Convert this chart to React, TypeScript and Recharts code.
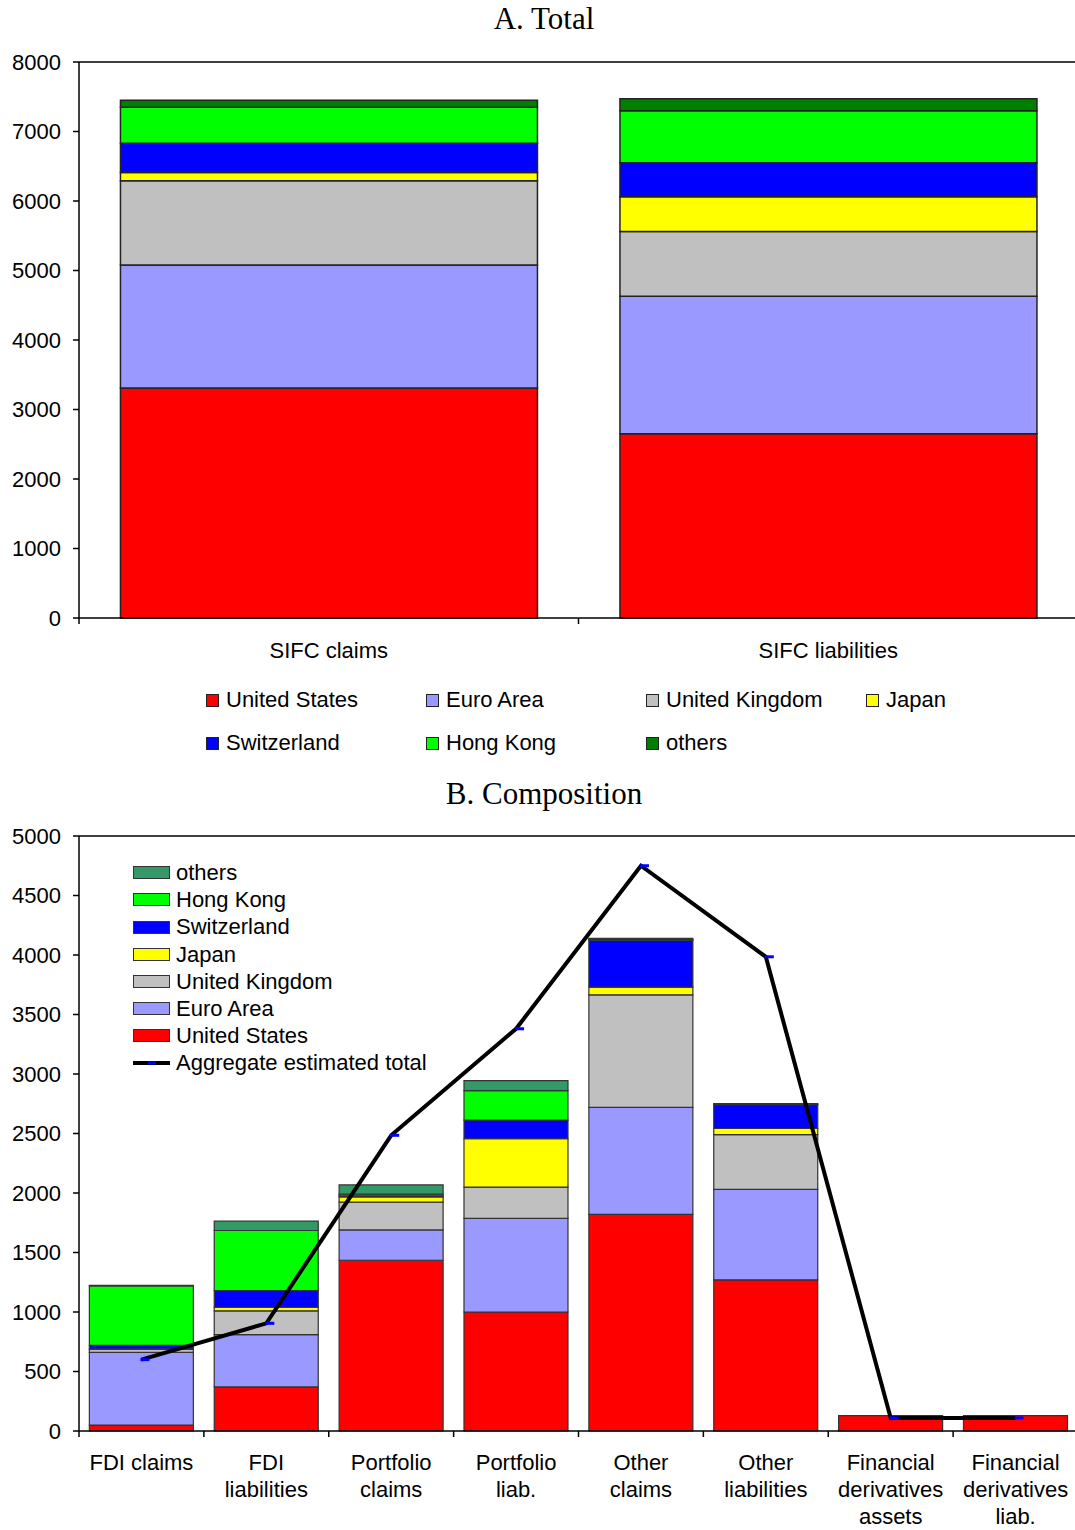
import React from "react";
import { BarChart, ComposedChart, Bar, Line, XAxis, YAxis, ReferenceLine, Legend } from "recharts";

// series (bottom to top in each stack)
const countries = ["United States", "Euro Area", "United Kingdom", "Japan", "Switzerland", "Hong Kong", "others"];
const seriesKeys = ["us", "euro", "uk", "japan", "swiss", "hk", "others"];
const colorsA = ["#ff0000", "#9999ff", "#c0c0c0", "#ffff00", "#0000ff", "#00ff00", "#008000"];
const colorsB = ["#ff0000", "#9999ff", "#c0c0c0", "#ffff00", "#0000ff", "#00ff00", "#339966"];

// A. Total
const totalCategories = ["SIFC claims", "SIFC liabilities"];
const totalUS = [3310, 2650];
const totalEuro = [1770, 1980];
const totalUK = [1210, 930];
const totalJapan = [120, 500];
const totalSwiss = [420, 490];
const totalHK = [520, 750];
const totalOthers = [100, 170];
const totalTicks = [0, 1000, 2000, 3000, 4000, 5000, 6000, 7000, 8000];

// B. Composition
const compCategories = [
  "FDI claims",
  "FDI liabilities",
  "Portfolio claims",
  "Portfolio liab.",
  "Other claims",
  "Other liabilities",
  "Financial derivatives assets",
  "Financial derivatives liab.",
];
const compLabels = [
  ["FDI claims"],
  ["FDI", "liabilities"],
  ["Portfolio", "claims"],
  ["Portfolio", "liab."],
  ["Other", "claims"],
  ["Other", "liabilities"],
  ["Financial", "derivatives", "assets"],
  ["Financial", "derivatives", "liab."],
];
const compUS = [50, 370, 1435, 1000, 1820, 1270, 130, 130];
const compEuro = [610, 440, 255, 787, 900, 760, 0, 0];
const compUK = [25, 200, 233, 263, 945, 460, 0, 0];
const compJapan = [5, 30, 44, 406, 65, 52, 0, 0];
const compSwiss = [30, 140, 9, 157, 395, 200, 0, 0];
const compHK = [500, 505, 14, 247, 5, 5, 0, 0];
const compOthers = [5, 78, 78, 84, 10, 5, 0, 0];
const aggregateTotal = [600, 905, 2485, 3380, 4750, 3985, 110, 110];
const compTicks = [0, 500, 1000, 1500, 2000, 2500, 3000, 3500, 4000, 4500, 5000];

const totalSeries = [totalUS, totalEuro, totalUK, totalJapan, totalSwiss, totalHK, totalOthers];
const compSeries = [compUS, compEuro, compUK, compJapan, compSwiss, compHK, compOthers];

const totalData = totalCategories.map((name, i) => {
  const row: Record<string, any> = { name };
  seriesKeys.forEach((k, s) => (row[k] = totalSeries[s][i]));
  return row;
});

const compData = compCategories.map((name, i) => {
  const row: Record<string, any> = { name, aggregate: aggregateTotal[i] };
  seriesKeys.forEach((k, s) => (row[k] = compSeries[s][i]));
  return row;
});

const SANS = "'Liberation Sans', Arial, sans-serif";
const SERIF = "'Liberation Serif', 'Times New Roman', serif";
const CHART_W = 1080;
const PLOT_LEFT = 79;
const PLOT_RIGHT_MARGIN = 2;

function CategoryTick(props: any) {
  const { x, y, index, catW, labels, firstDy } = props;
  const lines: string[] = labels[index];
  const half = catW / 2;
  return (
    <g>
      <line x1={x - half} x2={x - half} y1={y} y2={y + 6} stroke="#000" strokeWidth={1.5} />
      <text x={x} y={y + firstDy} textAnchor="middle" fontSize={22} fontFamily={SANS} fill="#000">
        {lines.map((l, i) => (
          <tspan key={i} x={x} dy={i === 0 ? 0 : 27}>
            {l}
          </tspan>
        ))}
      </text>
    </g>
  );
}

function BlueDash(props: any) {
  const { cx, cy } = props;
  if (cx == null || cy == null) return null;
  return <rect x={cx - 1} y={cy - 1.5} width={9} height={3} fill="#0000ff" />;
}

const legendA = () => (
  <div style={{ position: "relative", width: 880, height: 80, fontFamily: SANS }}>
    {countries.map((c, i) => (
      <div
        key={c}
        style={{
          position: "absolute",
          left: (i % 4) * 220,
          top: Math.floor(i / 4) * 43,
          display: "flex",
          alignItems: "center",
          fontSize: 22,
          lineHeight: "26px",
          whiteSpace: "nowrap",
        }}
      >
        <span
          style={{ display: "inline-block", width: 11, height: 11, border: "1px solid #222", background: colorsA[i], marginRight: 7 }}
        />
        {c}
      </div>
    ))}
  </div>
);

const legendB = () => {
  const order = [6, 5, 4, 3, 2, 1, 0];
  return (
    <div style={{ fontFamily: SANS, fontSize: 22, lineHeight: "27.2px" }}>
      {order.map((i) => (
        <div key={countries[i]} style={{ display: "flex", alignItems: "center", whiteSpace: "nowrap" }}>
          <span
            style={{ display: "inline-block", width: 35, height: 11, border: "1px solid #333", background: colorsB[i], marginRight: 6 }}
          />
          {countries[i]}
        </div>
      ))}
      <div style={{ display: "flex", alignItems: "center", whiteSpace: "nowrap" }}>
        <svg width={37} height={8} style={{ marginRight: 6 }}>
          <line x1={0} x2={37} y1={4} y2={4} stroke="#000" strokeWidth={4} />
          <rect x={15} y={2.5} width={8} height={3} fill="#0000ff" />
        </svg>
        Aggregate estimated total
      </div>
    </div>
  );
};

export default function App() {
  const catWA = (CHART_W - PLOT_LEFT - PLOT_RIGHT_MARGIN) / totalCategories.length;
  const catWB = (CHART_W - PLOT_LEFT - PLOT_RIGHT_MARGIN) / compCategories.length;
  return (
    <div
      style={{
        position: "absolute",
        left: 0,
        top: 0,
        width: 1075,
        height: 1530,
        overflow: "hidden",
        background: "#fff",
      }}
    >
      <div
        style={{
          position: "absolute",
          left: 0,
          top: 0,
          width: 1088,
          height: 38,
          lineHeight: "38px",
          textAlign: "center",
          fontFamily: SERIF,
          fontSize: 31,
        }}
      >
        A. Total
      </div>
      <div style={{ position: "absolute", left: 0, top: 0 }}>
        <BarChart
          width={CHART_W}
          height={770}
          data={totalData}
          margin={{ top: 62, left: 0, right: PLOT_RIGHT_MARGIN, bottom: 0 }}
          barCategoryGap="8.3%"
        >
          <XAxis
            dataKey="name"
            height={152}
            axisLine={{ stroke: "#000", strokeWidth: 1.5 }}
            tickLine={false}
            tickSize={0}
            tickMargin={0}
            interval={0}
            tick={<CategoryTick catW={catWA} labels={totalCategories.map((c) => [c])} firstDy={40} />}
          />
          <YAxis
            width={PLOT_LEFT}
            domain={[0, 8000]}
            ticks={totalTicks}
            interval={0}
            axisLine={{ stroke: "#000", strokeWidth: 1.5 }}
            tickLine={{ stroke: "#000", strokeWidth: 1.5 }}
            tickSize={6}
            tickMargin={12}
            tick={{ fontSize: 22, fontFamily: SANS, fill: "#000" }}
          />
          <ReferenceLine y={8000} stroke="#000" strokeWidth={1.5} />
          {seriesKeys.map((k, i) => (
            <Bar
              key={k}
              dataKey={k}
              name={countries[i]}
              stackId="a"
              fill={colorsA[i]}
              stroke="#222"
              strokeWidth={1.5}
              isAnimationActive={false}
            />
          ))}
          <Legend
            layout="horizontal"
            align="center"
            verticalAlign="middle"
            content={legendA}
            wrapperStyle={{ top: 687, left: 206, width: 880 }}
          />
        </BarChart>
      </div>

      <div
        style={{
          position: "absolute",
          left: 0,
          top: 775,
          width: 1088,
          height: 38,
          lineHeight: "38px",
          textAlign: "center",
          fontFamily: SERIF,
          fontSize: 31,
        }}
      >
        B. Composition
      </div>
      <div style={{ position: "absolute", left: 0, top: 780 }}>
        <ComposedChart
          width={CHART_W}
          height={750}
          data={compData}
          margin={{ top: 56, left: 0, right: PLOT_RIGHT_MARGIN, bottom: 0 }}
          barCategoryGap="8.3%"
        >
          <XAxis
            dataKey="name"
            height={99}
            axisLine={{ stroke: "#000", strokeWidth: 1.5 }}
            tickLine={false}
            tickSize={0}
            tickMargin={0}
            interval={0}
            tick={<CategoryTick catW={catWB} labels={compLabels} firstDy={39} />}
          />
          <YAxis
            width={PLOT_LEFT}
            domain={[0, 5000]}
            ticks={compTicks}
            interval={0}
            axisLine={{ stroke: "#000", strokeWidth: 1.5 }}
            tickLine={{ stroke: "#000", strokeWidth: 1.5 }}
            tickSize={6}
            tickMargin={12}
            tick={{ fontSize: 22, fontFamily: SANS, fill: "#000" }}
          />
          <ReferenceLine y={5000} stroke="#000" strokeWidth={1.5} />
          {seriesKeys.map((k, i) => (
            <Bar
              key={k}
              dataKey={k}
              name={countries[i]}
              stackId="b"
              fill={colorsB[i]}
              stroke="#333"
              strokeWidth={1.2}
              isAnimationActive={false}
            />
          ))}
          <Line
            type="linear"
            dataKey="aggregate"
            name="Aggregate estimated total"
            stroke="#000"
            strokeWidth={4}
            dot={<BlueDash />}
            activeDot={false}
            isAnimationActive={false}
          />
          <Legend
            layout="vertical"
            align="center"
            verticalAlign="middle"
            content={legendB}
            wrapperStyle={{ top: 79, left: 133, width: 400 }}
          />
        </ComposedChart>
      </div>
    </div>
  );
}
